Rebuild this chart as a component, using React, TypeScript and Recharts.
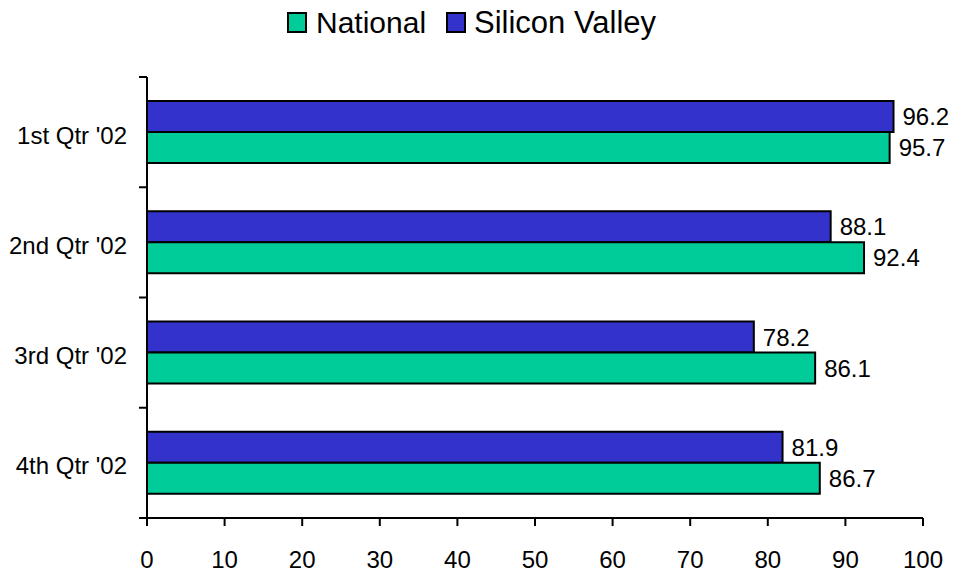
import React from 'react';
import { BarChart, Bar, XAxis, YAxis, LabelList } from 'recharts';

const categories = ["1st Qtr '02", "2nd Qtr '02", "3rd Qtr '02", "4th Qtr '02"];
const siliconValley = [96.2, 88.1, 78.2, 81.9];
const national = [95.7, 92.4, 86.1, 86.7];
const xTicks = [0, 10, 20, 30, 40, 50, 60, 70, 80, 90, 100];
const boundaryTicks = [0, 1, 2, 3, 4];

const data = categories.map((c, i) => ({ name: c, sv: siliconValley[i], nat: national[i], b: i + 0.5 }));

const FONT = "'Liberation Sans', Arial, Helvetica, sans-serif";
const BLUE = '#3333CC';
const GREEN = '#00CC99';

const CatTick = (props: any) => {
  const { x, y, payload } = props;
  return (
    <text x={x} y={y + 3} dy="0.355em" textAnchor="end" fontSize={24} fontFamily={FONT} fill="#000">
      {payload.value}
    </text>
  );
};

const EmptyTick = () => <g />;

export default function App() {
  return (
    <div style={{ position: 'absolute', left: 0, top: 0, width: 954, height: 575, background: '#fff' }}>
      <svg width={954} height={60} style={{ position: 'absolute', left: 0, top: 0 }}>
        <rect x={288} y={13} width={18} height={19} fill={GREEN} stroke="#000" strokeWidth={2} />
        <text x={316} y={33} fontSize={30} fontFamily={FONT} fill="#000">National</text>
        <rect x={447} y={13} width={18} height={19} fill={BLUE} stroke="#000" strokeWidth={2} />
        <text x={474} y={33} fontSize={31} fontFamily={FONT} fill="#000">Silicon Valley</text>
      </svg>
      <div style={{ position: 'absolute', left: 0, top: 0 }}>
        <BarChart
          width={954}
          height={575}
          data={data}
          layout="vertical"
          margin={{ top: 77, right: 31, bottom: 0, left: 0 }}
          barGap={0}
        >
          <XAxis
            type="number"
            domain={[0, 100]}
            ticks={xTicks}
            interval={0}
            height={57}
            tickSize={8}
            tickMargin={25}
            axisLine={{ stroke: '#000', strokeWidth: 2 }}
            tickLine={{ stroke: '#000', strokeWidth: 2 }}
            tick={{ fontSize: 24, fontFamily: FONT, fill: '#000' }}
          />
          <YAxis
            yAxisId="bound"
            type="number"
            dataKey="b"
            domain={[0, 4]}
            allowDataOverflow
            ticks={boundaryTicks}
            interval={0}
            width={1}
            tickSize={8}
            axisLine={{ stroke: '#000', strokeWidth: 2 }}
            tickLine={{ stroke: '#000', strokeWidth: 2 }}
            tick={EmptyTick}
          />
          <YAxis
            yAxisId="cat"
            type="category"
            dataKey="name"
            width={146}
            axisLine={false}
            tickLine={false}
            tickSize={0}
            tickMargin={19}
            interval={0}
            tick={<CatTick />}
          />
          <Bar yAxisId="cat" dataKey="sv" name="Silicon Valley" fill={BLUE} stroke="#000" strokeWidth={2} barSize={31} isAnimationActive={false}>
            <LabelList dataKey="sv" position="right" offset={9} fontSize={24} fontFamily={FONT} fill="#000" formatter={(v: any) => Number(v).toFixed(1)} />
          </Bar>
          <Bar yAxisId="cat" dataKey="nat" name="National" fill={GREEN} stroke="#000" strokeWidth={2} barSize={31} isAnimationActive={false}>
            <LabelList dataKey="nat" position="right" offset={9} fontSize={24} fontFamily={FONT} fill="#000" formatter={(v: any) => Number(v).toFixed(1)} />
          </Bar>
        </BarChart>
      </div>
    </div>
  );
}
